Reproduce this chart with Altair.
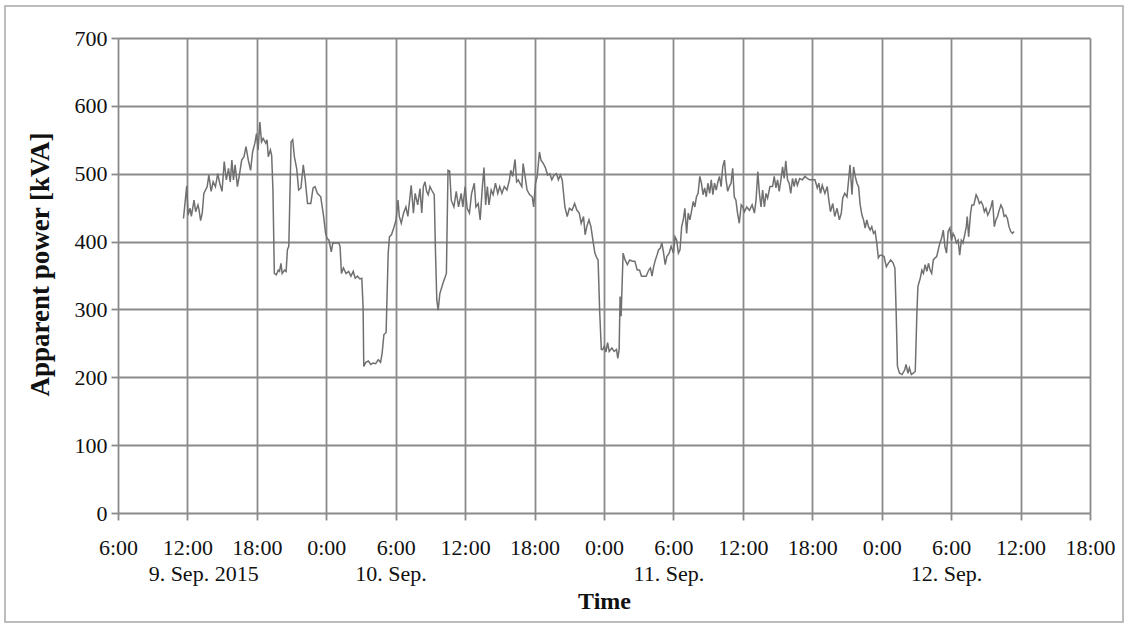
import altair as alt
import pandas as pd

# hours since 9 Sep 2015 00:00
hours = [
    11.66, 11.94, 12.06, 12.23, 12.34, 12.57, 12.71, 12.91, 13.00, 13.14, 13.28, 13.42, 13.71, 13.85,
    14.05, 14.22, 14.42, 14.62, 14.79, 14.99, 15.18, 15.36, 15.55, 15.70, 15.84, 15.98, 16.12, 16.32,
    16.49, 16.69, 16.89, 17.06, 17.26, 17.46, 17.63, 17.83, 17.97, 18.11, 18.26, 18.40, 18.54, 18.77,
    18.88, 18.99, 19.17, 19.28, 19.39, 19.51, 19.68, 19.85, 19.96, 20.08, 20.19, 20.39, 20.53, 20.64,
    20.76, 20.96, 21.10, 21.24, 21.44, 21.61, 21.81, 22.01, 22.18, 22.38, 22.66, 22.86, 23.03, 23.23,
    23.52, 23.77, 23.94, 24.06, 24.23, 24.43, 24.57, 24.85, 25.08, 25.19, 25.31, 25.48, 25.71, 25.93,
    26.13, 26.33, 26.50, 26.70, 26.90, 27.07, 27.18, 27.24, 27.41, 27.64, 27.84, 28.04, 28.27, 28.49,
    28.69, 28.83, 28.98, 29.17, 29.35, 29.46, 29.63, 29.83, 30.03, 30.20, 30.31, 30.48, 30.68, 30.88,
    31.05, 31.17, 31.34, 31.53, 31.68, 31.90, 32.10, 32.25, 32.39, 32.53, 32.67, 32.81, 32.96, 33.10,
    33.33, 33.44, 33.55, 33.67, 33.81, 34.09, 34.38, 34.52, 34.66, 34.80, 35.03, 35.23, 35.43, 35.66,
    35.80, 36.00, 36.17, 36.37, 36.56, 36.79, 36.93, 37.13, 37.30, 37.49, 37.63, 37.77, 37.92, 38.06,
    38.25, 38.42, 38.62, 38.82, 38.99, 39.18, 39.38, 39.61, 39.83, 39.94, 40.11, 40.31, 40.45, 40.59,
    40.73, 40.90, 41.01, 41.18, 41.35, 41.58, 41.80, 41.92, 42.08, 42.23, 42.42, 42.56, 42.76, 42.93,
    43.13, 43.32, 43.49, 43.69, 43.89, 44.06, 44.23, 44.39, 44.62, 44.82, 45.01, 45.24, 45.46, 45.66,
    45.86, 46.03, 46.23, 46.37, 46.51, 46.70, 46.87, 47.04, 47.21, 47.38, 47.49, 47.63, 47.77, 47.89,
    48.03, 48.17, 48.31, 48.45, 48.68, 48.88, 49.08, 49.19, 49.31, 49.39, 49.48, 49.65, 49.82, 50.02,
    50.22, 50.45, 50.67, 50.87, 51.07, 51.24, 51.44, 51.64, 51.87, 52.01, 52.15, 52.29, 52.44, 52.58,
    52.72, 52.86, 53.00, 53.15, 53.29, 53.43, 53.63, 53.80, 54.00, 54.14, 54.28, 54.43, 54.57, 54.71,
    54.85, 54.99, 55.14, 55.28, 55.42, 55.56, 55.71, 55.85, 55.99, 56.13, 56.28, 56.42, 56.56, 56.70,
    56.84, 56.98, 57.13, 57.27, 57.41, 57.55, 57.70, 57.84, 57.98, 58.12, 58.26, 58.41, 58.55, 58.69,
    58.83, 58.98, 59.12, 59.26, 59.40, 59.54, 59.69, 59.86, 60.00, 60.14, 60.34, 60.57, 60.80, 61.00,
    61.14, 61.29, 61.43, 61.57, 61.71, 61.86, 62.00, 62.14, 62.34, 62.57, 62.71, 62.86, 63.00, 63.14,
    63.29, 63.43, 63.57, 63.71, 63.86, 64.00, 64.14, 64.29, 64.43, 64.57, 64.71, 64.91, 65.14, 65.37,
    65.57, 65.77, 66.00, 66.23, 66.43, 66.57, 66.71, 66.86, 67.09, 67.29, 67.43, 67.57, 67.77, 67.94,
    68.14, 68.34, 68.51, 68.63, 68.80, 69.00, 69.14, 69.26, 69.43, 69.57, 69.71, 69.86, 70.00, 70.14,
    70.29, 70.43, 70.57, 70.71, 70.86, 71.00, 71.14, 71.29, 71.43, 71.57, 71.71, 71.86, 72.00, 72.20,
    72.40, 72.57, 72.77, 72.97, 73.14, 73.25, 73.36, 73.54, 73.76, 73.99, 74.10, 74.27, 74.39, 74.56,
    74.73, 74.90, 75.04, 75.13, 75.33, 75.47, 75.61, 75.75, 75.90, 76.04, 76.18, 76.32, 76.46, 76.61,
    76.75, 76.89, 77.03, 77.17, 77.32, 77.46, 77.60, 77.74, 77.89, 78.03, 78.17, 78.31, 78.45, 78.60,
    78.74, 78.88, 79.02, 79.17, 79.31, 79.39, 79.51, 79.68, 79.79, 79.96, 80.16, 80.30, 80.44, 80.59,
    80.73, 80.87, 81.01, 81.16, 81.30, 81.44, 81.58, 81.73, 81.87, 82.01, 82.15, 82.30, 82.44, 82.58,
    82.72, 82.86, 83.00, 83.15, 83.29, 83.44,
]

power_kva = [
    434, 482, 439, 449, 437, 461, 444, 454, 447, 431, 442, 471, 481, 498,
    474, 488, 481, 500, 486, 474, 518, 491, 508, 488, 520, 491, 513, 481,
    498, 520, 525, 540, 520, 505, 532, 545, 559, 535, 576, 547, 552, 545,
    550, 525, 535, 527, 476, 353, 351, 358, 356, 368, 353, 358, 356, 388,
    393, 547, 550, 525, 508, 476, 479, 513, 491, 456, 456, 479, 481, 471,
    466, 437, 412, 405, 402, 385, 398, 398, 398, 393, 353, 361, 353, 356,
    349, 356, 346, 349, 345, 346, 304, 216, 222, 224, 219, 221, 220, 226,
    222, 236, 263, 266, 383, 407, 410, 420, 432, 461, 437, 427, 442, 451,
    437, 456, 483, 442, 471, 454, 478, 442, 481, 488, 474, 469, 481, 476,
    469, 383, 314, 299, 323, 339, 353, 505, 504, 461, 451, 474, 451, 471,
    451, 481, 449, 442, 471, 486, 451, 456, 432, 481, 509, 454, 481, 454,
    476, 469, 486, 471, 481, 471, 481, 476, 491, 505, 496, 521, 488, 491,
    486, 481, 515, 496, 476, 469, 466, 451, 486, 496, 532, 520, 515, 509,
    498, 500, 491, 498, 500, 491, 498, 491, 451, 437, 449, 446, 456, 446,
    442, 427, 437, 410, 422, 432, 422, 402, 383, 376, 373, 295, 241, 241,
    246, 237, 251, 238, 243, 238, 241, 228, 241, 319, 290, 383, 373, 366,
    373, 371, 371, 358, 358, 349, 349, 349, 358, 361, 349, 363, 373, 380,
    388, 390, 398, 383, 366, 378, 383, 393, 383, 407, 402, 383, 388, 422,
    432, 449, 412, 442, 432, 444, 459, 451, 466, 471, 496, 486, 469, 479,
    466, 486, 471, 491, 469, 486, 476, 488, 496, 481, 510, 520, 491, 474,
    481, 486, 508, 466, 461, 442, 427, 454, 451, 444, 451, 446, 454, 442,
    461, 503, 471, 451, 476, 451, 471, 464, 481, 481, 496, 479, 491, 474,
    491, 510, 493, 519, 491, 486, 471, 493, 481, 493, 483, 493, 491, 496,
    493, 491, 491, 491, 479, 486, 471, 483, 471, 481, 461, 444, 456, 437,
    449, 432, 442, 464, 471, 466, 491, 513, 469, 510, 496, 486, 481, 454,
    439, 432, 420, 432, 422, 417, 422, 412, 415, 398, 376, 380, 380, 378,
    363, 368, 373, 369, 361, 295, 216, 206, 204, 211, 219, 206, 214, 204,
    206, 209, 295, 334, 346, 358, 353, 366, 356, 368, 358, 353, 373, 376,
    378, 388, 398, 405, 417, 393, 383, 415, 420, 402, 412, 407, 398, 402,
    380, 402, 398, 410, 422, 437, 407, 442, 454, 454, 469, 464, 456, 459,
    454, 444, 449, 439, 444, 451, 461, 422, 432, 437, 446, 454, 449, 437,
    439, 434, 422, 415, 412, 415,
]

tick_hours = [6, 12, 18, 24, 30, 36, 42, 48, 54, 60, 66, 72, 78, 84, 90]
y_ticks = [0, 100, 200, 300, 400, 500, 600, 700]

# date captions under the time labels (centre position in hours)
date_labels = ["9. Sep. 2015", "10. Sep.", "11. Sep.", "12. Sep."]
date_hours = [13.4, 29.6, 53.6, 77.6]

df = pd.DataFrame({"h": hours, "p": power_kva})
dates_df = pd.DataFrame({"h": date_hours, "t": date_labels})

FONT = "Liberation Serif"
GRID = "#8a8a8a"
TXT = "#111111"

x_enc = alt.X(
    "h:Q",
    scale=alt.Scale(domain=[6, 90], nice=False, zero=False),
    axis=alt.Axis(
        values=tick_hours,
        labelExpr="(datum.value % 24) + ':00'",
        title="Time",
        grid=True,
        gridColor=GRID,
        gridWidth=1.8,
        gridOpacity=1,
        domain=False,
        tickColor=GRID,
        tickWidth=1.8,
        tickSize=7,
        labelPadding=17,
        labelFontSize=22,
        labelFont=FONT,
        labelColor=TXT,
        labelBaseline="top",
        labelOverlap=False,
        labelFlush=False,
        titleFont=FONT,
        titleFontSize=24,
        titleFontWeight="bold",
        titleColor=TXT,
        titlePadding=31,
    ),
)

line = alt.Chart(df).mark_line(color="#707070", strokeWidth=1.5).encode(
    x=x_enc,
    y=alt.Y(
        "p:Q",
        scale=alt.Scale(domain=[0, 700], nice=False),
        axis=alt.Axis(
            values=y_ticks,
            title="Apparent power [kVA]",
            grid=True,
            gridColor=GRID,
            gridWidth=1.8,
            gridOpacity=1,
            domain=False,
            tickColor=GRID,
            tickWidth=1.8,
            tickSize=7,
            labelPadding=4,
            labelFontSize=22,
            labelFont=FONT,
            labelColor=TXT,
            titleFont=FONT,
            titleFontSize=27,
            titleFontWeight="bold",
            titleColor=TXT,
            titlePadding=20,
            titleY=226,
        ),
    ),
)

dates = alt.Chart(dates_df).mark_text(
    font=FONT, fontSize=22, color=TXT, baseline="middle", align="center"
).encode(
    x=alt.X("h:Q"),
    y=alt.value(536),
    text="t:N",
)

frame = alt.Chart(pd.DataFrame({"k": [0]})).mark_rect(
    fill=None, filled=False, stroke="#a8a8a8", strokeWidth=1.5
).encode(
    x=alt.value(-113), x2=alt.value(1005), y=alt.value(-32), y2=alt.value(584)
)

chart = alt.layer(frame, line, dates).properties(
    width=972,
    height=475,
    autosize=alt.AutoSizeParams(type="none"),
    padding={"left": 118, "top": 38, "right": 39, "bottom": 115},
    background="white",
).configure_view(stroke=None)

chart.save("out.html", embed_options={"renderer": "svg", "actions": False})
